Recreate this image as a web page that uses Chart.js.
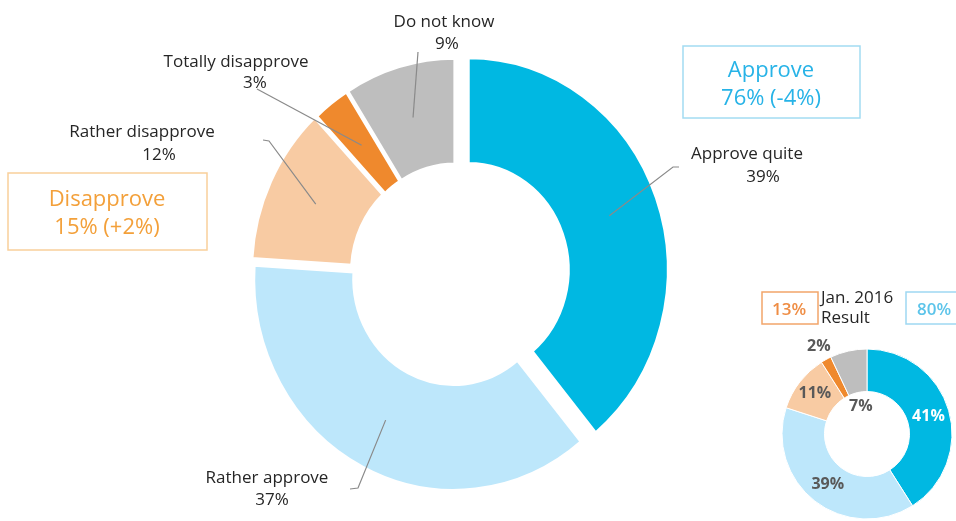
<!DOCTYPE html>
<html>
<head>
<meta charset="utf-8">
<script src="https://cdn.jsdelivr.net/npm/chart.js@4.4.0/dist/chart.umd.min.js"></script>
<style>
  html, body { margin: 0; padding: 0; background: #fff; overflow: hidden; }
  #wrap { position: relative; width: 956px; height: 521px; overflow: hidden; }
  #main { position: absolute; left: 0; top: 0; }
  #jan { position: absolute; left: 767px; top: 334px; }
</style>
</head>
<body>
<div id="wrap">
  <canvas id="main" width="956" height="521"></canvas>
  <canvas id="jan" width="200" height="200"></canvas>
</div>
<script>
'use strict';

// ---- data ----
const categories = ['Approve quite', 'Rather approve', 'Rather disapprove', 'Totally disapprove', 'Do not know'];
const currentValues = [39, 37, 12, 3, 9];
const jan2016Values = [41, 39, 11, 2, 7];
const janCaption = ['Jan. 2016', 'Result'];

// ---- styles ----
const colors = ['#00b8e2', '#bde7fb', '#f8cba3', '#ef892d', '#bebebe'];
const explode = [13, 5, 5, 4, 4];   // px each slice is pushed out
const stretchY = 1.06;              // the source ring is a bit taller than wide
const FONT = '"Open Sans", "Noto Sans", sans-serif';
const textColor = '#262626';
const leaderColor = '#8a8a8a';

// approve / disapprove totals and change vs Jan. 2016
const sum = (arr, a, b) => arr.slice(a, b).reduce((s, v) => s + v, 0);
const approveNow = sum(currentValues, 0, 2);
const approveJan = sum(jan2016Values, 0, 2);
const disNow = sum(currentValues, 2, 4);
const disJan = sum(jan2016Values, 2, 4);
const signed = n => (n > 0 ? '+' : '') + n + '%';

// label spots for the big ring: [line1 x, y], [line2 x, y], leader points from the text towards the slice
const callouts = [
  { l1: [747, 159], l2: [763, 182], path: [[679, 167], [673, 167]] },
  { l1: [267, 483], l2: [272, 505], path: [[350, 489], [358, 488]] },
  { l1: [142, 137], l2: [159, 160], path: [[263, 140], [269, 141]] },
  { l1: [236, 67],  l2: [255, 88],  path: [[257, 89]] },
  { l1: [444, 27],  l2: [447, 49],  path: [[418, 52]] }
];

// where a point at radius r on the middle of a slice ends up on screen
function slicePoint(arc, i, r) {
  const mid = (arc.startAngle + arc.endAngle) / 2;
  const d = explode[i];
  return {
    x: arc.x + Math.cos(mid) * (r + d),
    y: arc.y + Math.sin(mid) * (r * stretchY + d)
  };
}

const ringPlugin = {
  id: 'ring',
  beforeDatasetDraw(chart, args) {
    const ctx = chart.ctx;
    args.meta.data.forEach((arc, i) => {
      const mid = (arc.startAngle + arc.endAngle) / 2;
      ctx.save();
      ctx.translate(Math.cos(mid) * explode[i], Math.sin(mid) * explode[i]);
      ctx.translate(arc.x, arc.y);
      ctx.scale(1, stretchY);
      ctx.translate(-arc.x, -arc.y);
      arc.draw(ctx);
      ctx.restore();
    });
    return false;
  }
};

function box(ctx, x, y, w, h, stroke) {
  ctx.save();
  ctx.strokeStyle = stroke;
  ctx.lineWidth = 1.5;
  ctx.strokeRect(x, y, w, h);
  ctx.restore();
}

function text(ctx, str, x, y, font, color, align) {
  ctx.font = font;
  ctx.fillStyle = color;
  ctx.textAlign = align || 'center';
  ctx.textBaseline = 'alphabetic';
  ctx.fillText(str, x, y);
}

const annotatePlugin = {
  id: 'annotate',
  afterDraw(chart) {
    const ctx = chart.ctx;
    const arcs = chart.getDatasetMeta(0).data;
    ctx.save();

    // leader lines + labels
    arcs.forEach((arc, i) => {
      const c = callouts[i];
      const end = slicePoint(arc, i, (arc.innerRadius + arc.outerRadius) / 2);
      ctx.strokeStyle = leaderColor;
      ctx.lineWidth = 1.2;
      ctx.beginPath();
      ctx.moveTo(c.path[0][0], c.path[0][1]);
      c.path.slice(1).forEach(p => ctx.lineTo(p[0], p[1]));
      ctx.lineTo(end.x, end.y);
      ctx.stroke();
      text(ctx, categories[i], c.l1[0], c.l1[1], '17px ' + FONT, textColor);
      text(ctx, currentValues[i] + '%', c.l2[0], c.l2[1], '17px ' + FONT, textColor);
    });

    // group boxes
    box(ctx, 683, 46, 177, 72, '#a3dcf2');
    text(ctx, 'Approve', 771, 77, '22px ' + FONT, '#27b3e7');
    text(ctx, approveNow + '% (' + signed(approveNow - approveJan) + ')', 771, 105, '22px ' + FONT, '#27b3e7');

    box(ctx, 8, 173, 199, 77, '#f9cf9b');
    text(ctx, 'Disapprove', 107, 206, '22px ' + FONT, '#f3a03a');
    text(ctx, disNow + '% (' + signed(disNow - disJan) + ')', 107, 234, '22px ' + FONT, '#f3a03a');

    // Jan. 2016 header
    box(ctx, 762, 292, 56, 32, '#f2a56a');
    text(ctx, disJan + '%', 789, 315, '600 17px ' + FONT, '#ef8d44');
    text(ctx, janCaption[0], 821, 303, '17px ' + FONT, textColor, 'left');
    text(ctx, janCaption[1], 821, 323, '17px ' + FONT, textColor, 'left');
    box(ctx, 906, 292, 60, 32, '#9ed8f2');
    text(ctx, approveJan + '%', 934, 315, '600 17px ' + FONT, '#5cc4ea');

    ctx.restore();
  }
};

new Chart(document.getElementById('main'), {
  type: 'doughnut',
  data: {
    labels: categories,
    datasets: [{
      data: currentValues,
      backgroundColor: colors,
      borderColor: '#fff',
      borderWidth: 3
    }]
  },
  options: {
    responsive: false,
    animation: false,
    events: [],
    radius: 200,
    cutout: '50%',
    layout: { padding: { left: 0, right: 44, top: 27, bottom: 0 } },
    plugins: { legend: { display: false }, tooltip: { enabled: false } }
  },
  plugins: [ringPlugin, annotatePlugin]
});

// ---- small Jan. 2016 ring ----
const janLabelRadius = [64, 64, 66, 100, 28];
const janLabelColor = ['#ffffff', '#595959', '#595959', '#595959', '#595959'];

const janLabels = {
  id: 'janLabels',
  afterDraw(chart) {
    const ctx = chart.ctx;
    ctx.save();
    chart.getDatasetMeta(0).data.forEach((arc, i) => {
      const mid = (arc.startAngle + arc.endAngle) / 2;
      const r = janLabelRadius[i];
      ctx.font = 'bold 16px ' + FONT;
      ctx.fillStyle = janLabelColor[i];
      ctx.textAlign = 'center';
      ctx.textBaseline = 'middle';
      ctx.fillText(jan2016Values[i] + '%', arc.x + Math.cos(mid) * r, arc.y + Math.sin(mid) * r);
    });
    ctx.restore();
  }
};

new Chart(document.getElementById('jan'), {
  type: 'doughnut',
  data: {
    labels: categories,
    datasets: [{
      data: jan2016Values,
      backgroundColor: colors,
      borderColor: '#fff',
      borderWidth: 1
    }]
  },
  options: {
    responsive: false,
    animation: false,
    events: [],
    radius: 85,
    cutout: '50%',
    plugins: { legend: { display: false }, tooltip: { enabled: false } }
  },
  plugins: [janLabels]
});
</script>
</body>
</html>
